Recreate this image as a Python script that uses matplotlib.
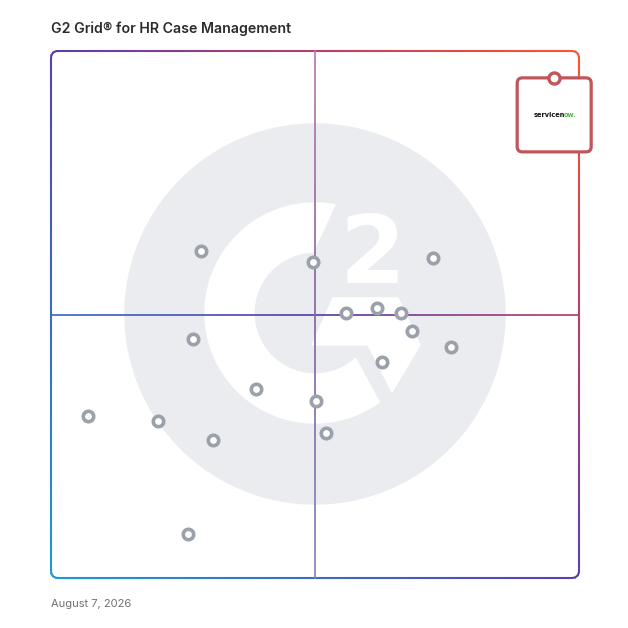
import numpy as np
import matplotlib
matplotlib.use("Agg")
import matplotlib.pyplot as plt
from matplotlib.collections import LineCollection
from matplotlib.colors import LinearSegmentedColormap
from matplotlib.patches import Circle, Polygon, FancyBboxPatch

title = "G2 Grid\u00ae for HR Case Management"
date_label = "August 7, 2026"

# market presence (x) / satisfaction (y), scale 0-100
product_x = [28.5, 49.7, 72.3, 55.8, 61.7, 66.3, 68.4, 75.7, 26.8,
             62.7, 38.8, 50.2, 20.3, 30.7, 52.1, 7.0, 25.9]
product_y = [62.0, 60.0, 60.7, 50.2, 51.3, 50.3, 46.9, 43.9, 45.4,
             41.0, 35.8, 33.6, 29.8, 26.2, 27.5, 30.7, 8.3]
leader_x = 95.3
leader_y = 94.9

W = 628
box_l, box_r, box_t, box_b = 51, 579, 51, 578
px_x = (box_r - box_l) / 100
px_y = (box_b - box_t) / 100

grad = LinearSegmentedColormap.from_list(
    "g2", ["#1d9ad6", "#3b6cc2", "#5b3fae", "#b6406a", "#ff5530"])
vgrad = LinearSegmentedColormap.from_list(
    "g2v", ["#8a8ac8", "#8c6ca6", "#c081b0"])


def grad_line(ax, xs, ys, lw, cmap=grad, along=False, alpha=1.0, n=600):
    xs = np.asarray(xs, float)
    ys = np.asarray(ys, float)
    d = np.concatenate([[0], np.cumsum(np.hypot(np.diff(xs), np.diff(ys)))])
    s = np.linspace(0, d[-1], n)
    xs, ys = np.interp(s, d, xs), np.interp(s, d, ys)
    pts = np.column_stack([xs, ys]).reshape(-1, 1, 2)
    segs = np.concatenate([pts[:-1], pts[1:]], axis=1)
    mid = segs.mean(axis=1)
    if along:
        t = mid[:, 1] / 100
    else:
        t = (mid[:, 0] + mid[:, 1]) / 200
    lc = LineCollection(segs, colors=cmap(t), linewidths=lw, alpha=alpha,
                        clip_on=False, capstyle="round", zorder=2)
    ax.add_collection(lc)


def rounded_rect(x0, y0, x1, y1, r):
    xs, ys = [], []
    for cx, cy, a0 in [(x1 - r, y1 - r, 0), (x0 + r, y1 - r, 90),
                       (x0 + r, y0 + r, 180), (x1 - r, y0 + r, 270)]:
        a = np.radians(np.linspace(a0, a0 + 90, 12))
        xs.extend(cx + r * np.cos(a))
        ys.extend(cy + r * np.sin(a))
    xs.append(xs[0])
    ys.append(ys[0])
    return xs, ys


fig = plt.figure(figsize=(6.28, 6.28), dpi=100)
fig.patch.set_facecolor("white")

# watermark logo, pixel coordinates
base = fig.add_axes([0, 0, 1, 1])
base.set_xlim(0, W)
base.set_ylim(W, 0)
base.axis("off")
wm = "#eaecef"
base.add_patch(Circle((315, 314), 190, color=wm, zorder=0))

cx, cy = 315, 313
a_out = np.radians(np.linspace(79.5, 305.8, 120))
a_in = np.radians(np.linspace(311.8, 91.9, 120))
c_pts = np.vstack([
    np.column_stack([cx + 110 * np.cos(a_out), cy - 110 * np.sin(a_out)]),
    np.column_stack([cx + 61 * np.cos(a_in), cy - 61 * np.sin(a_in)]),
])
base.add_patch(Polygon(c_pts, closed=True, color="white", zorder=1))
chevron = [(333, 298), (398, 298), (420, 345), (392, 392), (368, 345), (312, 345)]
base.add_patch(Polygon(chevron, closed=True, color="white", zorder=1))
base.text(372, 283, "2", color="white", fontsize=68, fontweight="bold",
          ha="center", va="baseline", family="DejaVu Sans", zorder=1)

fig.text(box_l / W, 1 - 29 / W, title, fontsize=10.2, fontweight="semibold",
         family="Inter", color="#2b2b2b", va="center")
fig.text(box_l / W, 1 - 604 / W, date_label, fontsize=8,
         family="Inter", color="#707070", va="center")

# grid
ax = fig.add_axes([box_l / W, 1 - box_b / W, (box_r - box_l) / W, (box_b - box_t) / W])
ax.set_xlim(0, 100)
ax.set_ylim(0, 100)
ax.patch.set_alpha(0)
ax.axis("off")

bx, by = rounded_rect(0, 0, 100, 100, 1.2)
grad_line(ax, bx, by, 1.5)
grad_line(ax, [0, 100], [50, 50], 1.1, alpha=0.9)
grad_line(ax, [50, 50], [0, 100], 1.1, cmap=vgrad, along=True)

ax.plot(product_x, product_y, "o", ms=7.5, mfc="white", mec="#9ba1ab",
        mew=2.6, clip_on=False, zorder=4)

# servicenow card
card_w = 74 / px_x
card_h = 74 / px_y
ax.add_patch(FancyBboxPatch((leader_x - card_w / 2, leader_y - card_h), card_w, card_h,
                            boxstyle="round,pad=0,rounding_size=1.0",
                            fc="white", ec="#c0565a", lw=2.3, clip_on=False, zorder=5))
ax.plot([leader_x], [leader_y], "o", ms=8, mfc="white", mec="#c0565a",
        mew=2.4, clip_on=False, zorder=6)
mid_y = leader_y - card_h / 2
ax.text(leader_x + 2.0, mid_y, "servicen", fontsize=4.8, fontweight="bold",
        color="#111111", ha="right", va="center", zorder=6)
ax.text(leader_x + 1.9, mid_y, "ow.", fontsize=4.8, fontweight="bold",
        color="#52b848", ha="left", va="center", zorder=6)

fig.savefig("out.png", dpi=100, facecolor="white")
